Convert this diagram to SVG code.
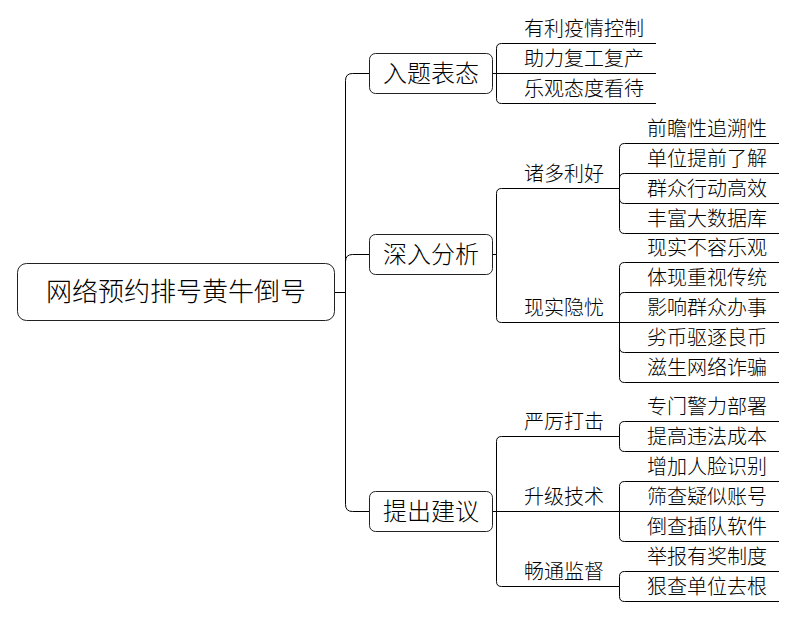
<svg xmlns="http://www.w3.org/2000/svg" width="795" height="617" viewBox="0 0 795 617">
<style>
text{font-family:"Noto Sans CJK SC","Noto Sans CJK JP",sans-serif;font-weight:300;fill:#000}
.root{font-size:26px;text-anchor:middle}
.main{font-size:24px;text-anchor:middle}
.sub,.leaf{font-size:20px}
.box{fill:#fff;stroke:#222;stroke-width:1}
.ul{stroke:#000;stroke-width:1;fill:none}
.conn path{stroke:#000;stroke-width:1;fill:none}
</style>
<rect width="795" height="617" fill="#fff"/>
<g class="conn" id="connectors">
<path d="M335,292.5 H345.5"/>
<path d="M345.5,292.5 V80.5 Q345.5,73.5 352.5,73.5 H369.5"/>
<path d="M345.5,292.5 V261.5 Q345.5,254.5 352.5,254.5 H369.5"/>
<path d="M345.5,292.5 V504.5 Q345.5,511.5 352.5,511.5 H369.5"/>
<path d="M493,73.5 H496.5"/>
<path d="M496.5,73.5 V48.5 Q496.5,43.5 501.5,43.5"/>
<path d="M496.5,73.5 V98.5 Q496.5,103.5 501.5,103.5"/>
<path d="M493,254.5 H496.5"/>
<path d="M496.5,254.5 V193.5 Q496.5,188.5 501.5,188.5"/>
<path d="M496.5,254.5 V317.5 Q496.5,322.5 501.5,322.5"/>
<path d="M619.5,188.5 V148.5 Q619.5,143.5 624.5,143.5"/>
<path d="M619.5,188.5 V178.5 Q619.5,173.5 624.5,173.5"/>
<path d="M619.5,188.5 V198.5 Q619.5,203.5 624.5,203.5"/>
<path d="M619.5,188.5 V228.5 Q619.5,233.5 624.5,233.5"/>
<path d="M619.5,322.5 V267.5 Q619.5,262.5 624.5,262.5"/>
<path d="M619.5,322.5 V297.5 Q619.5,292.5 624.5,292.5"/>
<path d="M619.5,322.5 V347.5 Q619.5,352.5 624.5,352.5"/>
<path d="M619.5,322.5 V377.5 Q619.5,382.5 624.5,382.5"/>
<path d="M493,511.5 H496.5"/>
<path d="M496.5,511.5 V441.5 Q496.5,436.5 501.5,436.5"/>
<path d="M496.5,511.5 V581.5 Q496.5,586.5 501.5,586.5"/>
<path d="M619.5,436.5 V426.5 Q619.5,421.5 624.5,421.5"/>
<path d="M619.5,436.5 V446.5 Q619.5,451.5 624.5,451.5"/>
<path d="M619.5,511.5 V486.5 Q619.5,481.5 624.5,481.5"/>
<path d="M619.5,511.5 V536.5 Q619.5,541.5 624.5,541.5"/>
<path d="M619.5,586.5 V576.5 Q619.5,571.5 624.5,571.5"/>
<path d="M619.5,586.5 V596.5 Q619.5,601.5 624.5,601.5"/>
</g>
<g id="root"><rect class="box" x="17.5" y="263.5" width="317" height="57" rx="9"/><text class="root" x="176" y="301">网络预约排号黄牛倒号</text></g>
<g id="n1"><rect class="box" x="369.5" y="53.5" width="123" height="40" rx="6"/><text class="main" x="431" y="82">入题表态</text></g>
<g id="n2"><rect class="box" x="369.5" y="234.5" width="123" height="40" rx="6"/><text class="main" x="431" y="263">深入分析</text></g>
<g id="n3"><rect class="box" x="369.5" y="491.5" width="123" height="40" rx="6"/><text class="main" x="431" y="520">提出建议</text></g>
<g id="n1a"><path class="ul" d="M501.5,43.5 H656"/><text class="leaf" x="524" y="36">有利疫情控制</text></g>
<g id="n1b"><path class="ul" d="M496.5,73.5 H656"/><text class="leaf" x="524" y="66">助力复工复产</text></g>
<g id="n1c"><path class="ul" d="M501.5,103.5 H656"/><text class="leaf" x="524" y="96">乐观态度看待</text></g>
<g id="n2a"><path class="ul" d="M501.5,188.5 H619.5"/><text class="sub" x="524" y="181">诸多利好</text></g>
<g id="n2a1"><path class="ul" d="M624.5,143.5 H779"/><text class="leaf" x="647" y="136">前瞻性追溯性</text></g>
<g id="n2a2"><path class="ul" d="M624.5,173.5 H779"/><text class="leaf" x="647" y="166">单位提前了解</text></g>
<g id="n2a3"><path class="ul" d="M624.5,203.5 H779"/><text class="leaf" x="647" y="196">群众行动高效</text></g>
<g id="n2a4"><path class="ul" d="M624.5,233.5 H779"/><text class="leaf" x="647" y="226">丰富大数据库</text></g>
<g id="n2b"><path class="ul" d="M501.5,322.5 H619.5"/><text class="sub" x="524" y="315">现实隐忧</text></g>
<g id="n2b1"><path class="ul" d="M624.5,262.5 H779"/><text class="leaf" x="647" y="255">现实不容乐观</text></g>
<g id="n2b2"><path class="ul" d="M624.5,292.5 H779"/><text class="leaf" x="647" y="285">体现重视传统</text></g>
<g id="n2b3"><path class="ul" d="M619.5,322.5 H779"/><text class="leaf" x="647" y="315">影响群众办事</text></g>
<g id="n2b4"><path class="ul" d="M624.5,352.5 H779"/><text class="leaf" x="647" y="345">劣币驱逐良币</text></g>
<g id="n2b5"><path class="ul" d="M624.5,382.5 H779"/><text class="leaf" x="647" y="375">滋生网络诈骗</text></g>
<g id="n3a"><path class="ul" d="M501.5,436.5 H619.5"/><text class="sub" x="524" y="429">严厉打击</text></g>
<g id="n3a1"><path class="ul" d="M624.5,421.5 H779"/><text class="leaf" x="647" y="414">专门警力部署</text></g>
<g id="n3a2"><path class="ul" d="M624.5,451.5 H779"/><text class="leaf" x="647" y="444">提高违法成本</text></g>
<g id="n3b"><path class="ul" d="M496.5,511.5 H619.5"/><text class="sub" x="524" y="504">升级技术</text></g>
<g id="n3b1"><path class="ul" d="M624.5,481.5 H779"/><text class="leaf" x="647" y="474">增加人脸识别</text></g>
<g id="n3b2"><path class="ul" d="M619.5,511.5 H779"/><text class="leaf" x="647" y="504">筛查疑似账号</text></g>
<g id="n3b3"><path class="ul" d="M624.5,541.5 H779"/><text class="leaf" x="647" y="534">倒查插队软件</text></g>
<g id="n3c"><path class="ul" d="M501.5,586.5 H619.5"/><text class="sub" x="524" y="579">畅通监督</text></g>
<g id="n3c1"><path class="ul" d="M624.5,571.5 H779"/><text class="leaf" x="647" y="564">举报有奖制度</text></g>
<g id="n3c2"><path class="ul" d="M624.5,601.5 H779"/><text class="leaf" x="647" y="594">狠查单位去根</text></g>
</svg>
